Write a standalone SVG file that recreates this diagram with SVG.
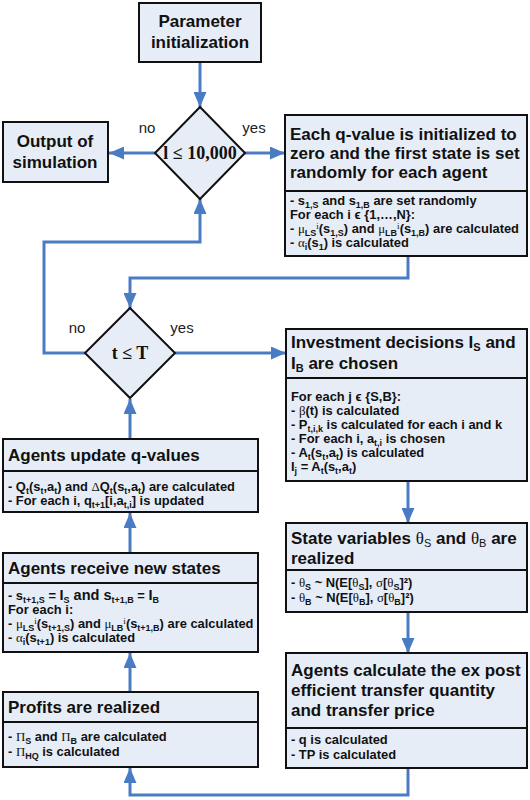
<svg xmlns="http://www.w3.org/2000/svg" width="530" height="800" viewBox="0 0 530 800">
<defs>
<marker id="ah" markerUnits="userSpaceOnUse" markerWidth="15" markerHeight="13" refX="15" refY="6.5" orient="auto">
<path d="M0,0 L15,6.5 L0,13 z" fill="#4a7cc4"/>
</marker>
<style>
.box{fill:#e7edf7;stroke:#111;stroke-width:2}
.div{stroke:#111;stroke-width:2}
.t{font-family:"Liberation Sans",Arial,sans-serif;font-weight:bold;font-size:17px;fill:#111}
.b{font-family:"Liberation Sans",Arial,sans-serif;font-weight:bold;font-size:12.9px;fill:#111}
.bs{font-family:"Liberation Sans",Arial,sans-serif;font-weight:bold;font-size:12.9px;fill:#111}
.lbl{font-family:"Liberation Sans",Arial,sans-serif;font-size:15px;fill:#222}
.cond{font-family:"Liberation Serif","Times New Roman",serif;font-weight:bold;font-size:18px;fill:#111}
.g{font-family:"Liberation Serif","Times New Roman",serif;font-weight:normal}
.sub{font-size:9px}
.con{fill:none;stroke:#4a7cc4;stroke-width:3;marker-end:url(#ah)}
</style>
</defs>

<g id="connectors">
<path class="con" d="M200,63 V107"/>
<path class="con" d="M155,153 H109"/>
<path class="con" d="M245,153 H285"/>
<path class="con" d="M408,257 V278 H130 V308"/>
<path class="con" d="M85,353 H44 V242 H200 V199"/>
<path class="con" d="M175,353 H286"/>
<path class="con" d="M408,482 V523"/>
<path class="con" d="M408,613 V653"/>
<path class="con" d="M408,769 V795 H130 V768"/>
<path class="con" d="M130,692 V653"/>
<path class="con" d="M130,553 V513"/>
<path class="con" d="M130,439 V399"/>
<text class="lbl" x="147" y="133" text-anchor="middle">no</text>
<text class="lbl" x="254" y="133" text-anchor="middle">yes</text>
<text class="lbl" x="77" y="333" text-anchor="middle">no</text>
<text class="lbl" x="182" y="333" text-anchor="middle">yes</text>
</g>

<g id="param">
<rect class="box" x="139" y="3" width="122" height="59"/>
<text class="t" x="200" y="27" text-anchor="middle">Parameter</text>
<text class="t" x="200" y="48" text-anchor="middle">initialization</text>
</g>

<g id="cond-l">
<path class="box" d="M200,107 L245,153 L200,199 L155,153 z"/>
<text class="cond" x="200" y="159" text-anchor="middle">l ≤ 10,000</text>
</g>

<g id="output">
<rect class="box" x="3" y="122" width="105" height="60"/>
<text class="t" x="55" y="147" text-anchor="middle">Output of</text>
<text class="t" x="55" y="168" text-anchor="middle">simulation</text>
</g>

<g id="init">
<rect class="box" x="285" y="115" width="242" height="141"/>
<line class="div" x1="285" y1="191" x2="527" y2="191"/>
<text class="t" x="290" y="140">Each q-value is initialized to</text>
<text class="t" x="290" y="159">zero and the first state is set</text>
<text class="t" x="290" y="178">randomly for each agent</text>
<text class="b" x="290" y="205">- s<tspan class="sub" dy="2.5">1,S</tspan><tspan dy="-2.5"> and s</tspan><tspan class="sub" dy="2.5">1,B</tspan><tspan dy="-2.5"> are set randomly</tspan></text>
<text class="b" x="290" y="219">For each i ϵ {1,…,N}:</text>
<text class="b" x="290" y="233">- <tspan class="g">μ</tspan><tspan class="sub" dy="2.5">LS</tspan><tspan class="sub g" dy="-7">i</tspan><tspan dy="4.5">(s</tspan><tspan class="sub" dy="2.5">1,S</tspan><tspan dy="-2.5">) and </tspan><tspan class="g">μ</tspan><tspan class="sub" dy="2.5">LB</tspan><tspan class="sub g" dy="-7">i</tspan><tspan dy="4.5">(s</tspan><tspan class="sub" dy="2.5">1,B</tspan><tspan dy="-2.5">) are calculated</tspan></text>
<text class="b" x="290" y="247">- <tspan class="g">α</tspan><tspan class="sub" dy="2.5">i</tspan><tspan dy="-2.5">(s</tspan><tspan class="sub" dy="2.5">1</tspan><tspan dy="-2.5">) is calculated</tspan></text>
</g>

<g id="cond-t">
<path class="box" d="M130,308 L175,353 L130,398 L85,353 z"/>
<text class="cond" x="130" y="359" text-anchor="middle">t ≤ T</text>
</g>

<g id="invest">
<rect class="box" x="286" y="329" width="241" height="152"/>
<line class="div" x1="286" y1="378" x2="527" y2="378"/>
<text class="t" x="291" y="348">Investment decisions I<tspan font-size="11" dy="3">S</tspan><tspan dy="-3"> and</tspan></text>
<text class="t" x="291" y="369">I<tspan font-size="11" dy="3">B</tspan><tspan dy="-3"> are chosen</tspan></text>
<text class="b" x="291" y="401">For each j ϵ {S,B}:</text>
<text class="b" x="291" y="415">- <tspan class="g">β</tspan>(t) is calculated</text>
<text class="b" x="291" y="429">- P<tspan class="sub" dy="2.5">t,i,k</tspan><tspan dy="-2.5"> is calculated for each i and k</tspan></text>
<text class="b" x="291" y="443">- For each i, a<tspan class="sub" dy="2.5">t,i</tspan><tspan dy="-2.5"> is chosen</tspan></text>
<text class="b" x="291" y="457">- A<tspan class="sub" dy="2.5">t</tspan><tspan dy="-2.5">(s</tspan><tspan class="sub" dy="2.5">t</tspan><tspan dy="-2.5">,a</tspan><tspan class="sub" dy="2.5">t</tspan><tspan dy="-2.5">) is calculated</tspan></text>
<text class="b" x="291" y="471">I<tspan class="sub" dy="2.5">j</tspan><tspan dy="-2.5"> = A</tspan><tspan class="sub" dy="2.5">t</tspan><tspan dy="-2.5">(s</tspan><tspan class="sub" dy="2.5">t</tspan><tspan dy="-2.5">,a</tspan><tspan class="sub" dy="2.5">t</tspan><tspan dy="-2.5">)</tspan></text>
</g>

<g id="update">
<rect class="box" x="3" y="439" width="255" height="73"/>
<line class="div" x1="3" y1="471" x2="258" y2="471"/>
<text class="t" x="8" y="461">Agents update q-values</text>
<text class="b" x="8" y="491">- Q<tspan class="sub" dy="2.5">t</tspan><tspan dy="-2.5">(s</tspan><tspan class="sub" dy="2.5">t</tspan><tspan dy="-2.5">,a</tspan><tspan class="sub" dy="2.5">t</tspan><tspan dy="-2.5">) and </tspan><tspan class="g">Δ</tspan>Q<tspan class="sub" dy="2.5">t</tspan><tspan dy="-2.5">(s</tspan><tspan class="sub" dy="2.5">t</tspan><tspan dy="-2.5">,a</tspan><tspan class="sub" dy="2.5">t</tspan><tspan dy="-2.5">) are calculated</tspan></text>
<text class="b" x="8" y="505">- For each i, q<tspan class="sub" dy="2.5">t+1</tspan><tspan dy="-2.5">[i,a</tspan><tspan class="sub" dy="2.5">t,i</tspan><tspan dy="-2.5">] is updated</tspan></text>
</g>

<g id="receive">
<rect class="box" x="3" y="553" width="255" height="99"/>
<line class="div" x1="3" y1="583" x2="258" y2="583"/>
<text class="t" x="8" y="574">Agents receive new states</text>
<text class="b" x="8" y="600">- s<tspan class="sub" dy="2.5">t+1,S</tspan><tspan dy="-2.5"> = </tspan><tspan font-size="14.5">I</tspan><tspan class="sub" dy="2.5">S</tspan><tspan dy="-2.5" font-size="14.5"> and </tspan><tspan font-size="14.5">s</tspan><tspan class="sub" dy="2.5">t+1,B</tspan><tspan dy="-2.5"> = </tspan><tspan font-size="14.5">I</tspan><tspan class="sub" dy="2.5">B</tspan></text>
<text class="b" x="8" y="614">For each i:</text>
<text class="b" x="8" y="628">- <tspan class="g">μ</tspan><tspan class="sub" dy="2.5">LS</tspan><tspan class="sub g" dy="-7">i</tspan><tspan dy="4.5">(s</tspan><tspan class="sub" dy="2.5">t+1,S</tspan><tspan dy="-2.5">) and </tspan><tspan class="g">μ</tspan><tspan class="sub" dy="2.5">LB</tspan><tspan class="sub g" dy="-7">i</tspan><tspan dy="4.5">(s</tspan><tspan class="sub" dy="2.5">t+1,B</tspan><tspan dy="-2.5">) are calculated</tspan></text>
<text class="b" x="8" y="642">- <tspan class="g">α</tspan><tspan class="sub" dy="2.5">i</tspan><tspan dy="-2.5">(s</tspan><tspan class="sub" dy="2.5">t+1</tspan><tspan dy="-2.5">) is calculated</tspan></text>
</g>

<g id="profits">
<rect class="box" x="3" y="692" width="255" height="75"/>
<line class="div" x1="3" y1="722" x2="258" y2="722"/>
<text class="t" x="8" y="713">Profits are realized</text>
<text class="b" x="8" y="741">- <tspan class="g">Π</tspan><tspan class="sub" dy="2.5">S</tspan><tspan dy="-2.5"> and </tspan><tspan class="g">Π</tspan><tspan class="sub" dy="2.5">B</tspan><tspan dy="-2.5"> are calculated</tspan></text>
<text class="b" x="8" y="756">- <tspan class="g">Π</tspan><tspan class="sub" dy="2.5">HQ</tspan><tspan dy="-2.5"> is calculated</tspan></text>
</g>

<g id="state">
<rect class="box" x="286" y="523" width="241" height="89"/>
<line class="div" x1="286" y1="570" x2="527" y2="570"/>
<text class="t" x="291" y="544">State variables <tspan class="g" font-weight="normal">θ</tspan><tspan font-size="11" font-weight="normal" dy="3">S</tspan><tspan dy="-3"> and </tspan><tspan class="g" font-weight="normal">θ</tspan><tspan font-size="11" font-weight="normal" dy="3">B</tspan><tspan dy="-3"> are</tspan></text>
<text class="t" x="291" y="564">realized</text>
<text class="bs" x="291" y="587">- <tspan class="g">θ</tspan><tspan class="sub" dy="2.5">S</tspan><tspan dy="-2.5"> ~ N(E[</tspan><tspan class="g">θ</tspan><tspan class="sub" dy="2.5">S</tspan><tspan dy="-2.5">], </tspan><tspan class="g">σ</tspan>[<tspan class="g">θ</tspan><tspan class="sub" dy="2.5">S</tspan><tspan dy="-2.5">]²)</tspan></text>
<text class="bs" x="291" y="602">- <tspan class="g">θ</tspan><tspan class="sub" dy="2.5">B</tspan><tspan dy="-2.5"> ~ N(E[</tspan><tspan class="g">θ</tspan><tspan class="sub" dy="2.5">B</tspan><tspan dy="-2.5">], </tspan><tspan class="g">σ</tspan>[<tspan class="g">θ</tspan><tspan class="sub" dy="2.5">B</tspan><tspan dy="-2.5">]²)</tspan></text>
</g>

<g id="calc">
<rect class="box" x="286" y="653" width="241" height="115"/>
<line class="div" x1="286" y1="728" x2="527" y2="728"/>
<text class="t" x="291" y="676">Agents calculate the ex post</text>
<text class="t" x="291" y="696">efficient transfer quantity</text>
<text class="t" x="291" y="716">and transfer price</text>
<text class="bs" x="291" y="744">- q is calculated</text>
<text class="bs" x="291" y="759">- TP is calculated</text>
</g>
</svg>
